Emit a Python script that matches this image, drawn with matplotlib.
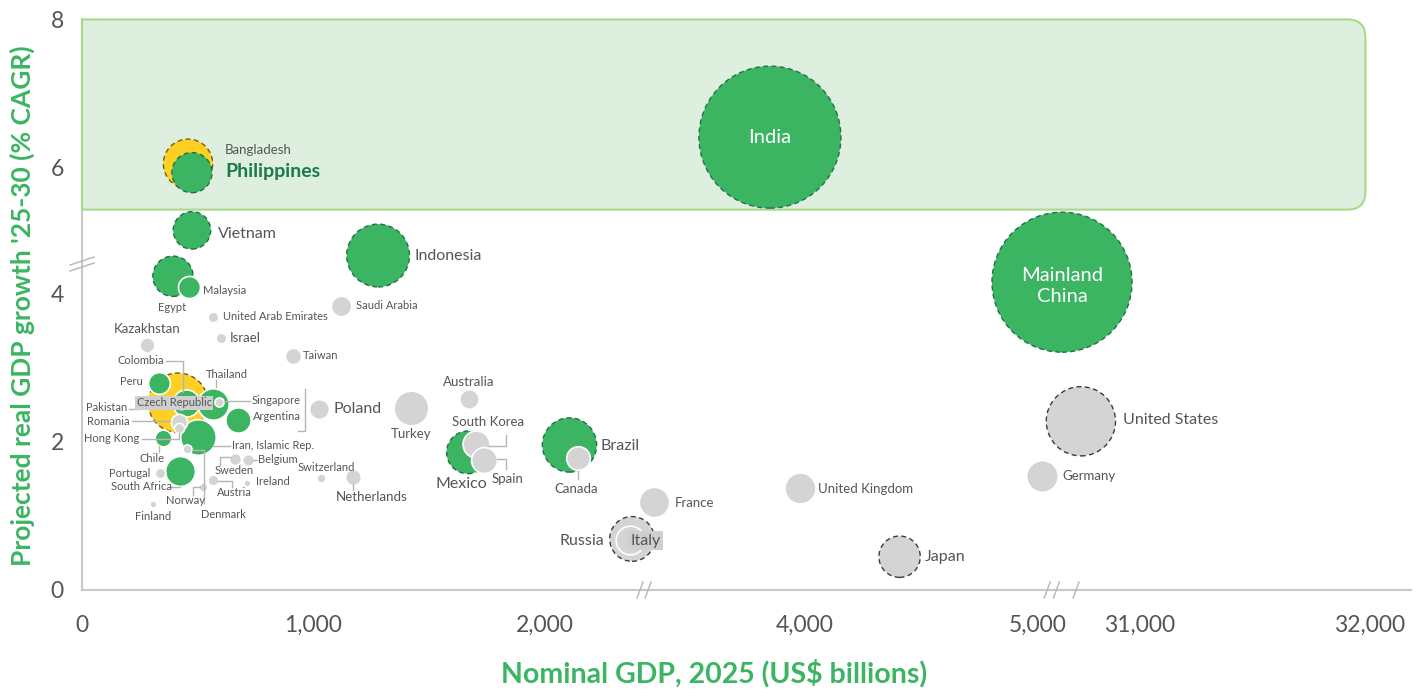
import numpy as np
import matplotlib
matplotlib.use('Agg')
from matplotlib import pyplot as plt
from matplotlib.path import Path
from matplotlib.patches import PathPatch
from matplotlib.lines import Line2D
from matplotlib.transforms import IdentityTransform

plt.rcParams['font.family'] = ['Lato', 'DejaVu Sans']

# ---- data ----
countries = ['India', 'Mainland China', 'United States', 'Indonesia', 'Pakistan', 'Brazil',
             'Bangladesh', 'Russia', 'Mexico', 'Japan', 'Egypt', 'Philippines', 'Vietnam',
             'Iran, Islamic Rep.', 'Turkey', 'Germany', 'Thailand', 'United Kingdom', 'France',
             'South Africa', 'Italy', 'Colombia', 'South Korea', 'Spain', 'Argentina', 'Canada',
             'Poland', 'Malaysia', 'Peru', 'Saudi Arabia', 'Australia', 'Taiwan', 'Kazakhstan',
             'Chile', 'Romania', 'Netherlands', 'Belgium', 'Sweden', 'Czech Republic', 'Portugal',
             'Israel', 'United Arab Emirates', 'Austria', 'Switzerland', 'Hong Kong', 'Singapore',
             'Denmark', 'Norway', 'Finland', 'Ireland']
gdp = [3850, 19400, 30743, 1279, 415, 2108,
       458, 2384, 1667, 4406, 393, 475, 475,
       501, 1421, 5017, 566, 3979, 3354,
       423, 2376, 449, 1702, 1737, 674, 2147,
       1024, 462, 333, 1119, 1672, 911, 281,
       350, 419, 1171, 717, 661, 428, 337,
       600, 566, 566, 1032, 419, 592,
       454, 523, 307, 713]
growth = [6.41, 4.16, 2.28, 4.81, 2.53, 1.96,
          6.05, 0.69, 1.86, 0.45, 4.24, 5.93, 5.15,
          2.07, 2.46, 1.54, 2.51, 1.38, 1.19,
          1.61, 0.68, 2.53, 1.97, 1.76, 2.30, 1.78,
          2.45, 4.09, 2.80, 3.84, 2.58, 3.16, 3.31,
          2.05, 2.27, 1.53, 1.76, 1.77, 2.53, 1.58,
          3.41, 3.69, 1.49, 1.51, 2.19, 2.54,
          1.91, 1.39, 1.16, 1.45]
population = [1450, 1410, 345, 284, 255, 212,
              175, 144, 131, 123, 117, 116, 101,
              91, 87, 72, 71, 69, 66,
              64, 59, 53, 52, 48, 46, 40,
              28, 35, 34, 30, 27, 19, 16,
              20, 19, 18, 10, 10.6, 10.9, 8,
              8, 8, 8.5, 6, 7.5, 6,
              6, 5.6, 3.5, 3.5]
group = ['g', 'g', 'n', 'g', 'y', 'g',
         'y', 'n', 'g', 'n', 'g', 'g', 'g',
         'g', 'n', 'n', 'g', 'n', 'n',
         'g', 'n', 'g', 'n', 'n', 'g', 'n',
         'n', 'g', 'g', 'n', 'n', 'n', 'n',
         'g', 'n', 'n', 'n', 'n', 'n', 'n',
         'n', 'n', 'n', 'n', 'n', 'n',
         'n', 'n', 'n', 'n']
highlighted = ['India', 'Mainland China', 'United States', 'Indonesia', 'Pakistan', 'Brazil',
               'Bangladesh', 'Russia', 'Mexico', 'Japan', 'Egypt', 'Philippines', 'Vietnam']

x_ticks = [0, 1000, 2000, 4000, 5000, 31000, 32000]
x_ticklabels = ['0', '1,000', '2,000', '4,000', '5,000', '31,000', '32,000']
y_ticks = [0, 2, 4, 6, 8]
band = (5.43, 8)  # high-growth band

# ---- styles ----
GREEN = '#3bb562'
face = {'g': GREEN, 'n': '#d4d4d4', 'y': '#fdd023'}
dash_edge = {'g': '#22704a', 'n': '#3a3a3a', 'y': '#6f5a1e'}
TXT = '#555555'
LEAD = '#b5b5b5'
fs = {'xs': 8, 's': 9.5, 'm': 11.5}

# label layout: dx, dy (pixels, down positive), ha, size, leader polyline (pixels from bubble)
labels = {
    'India': (0, 0, 'center', 'in', None),
    'Mainland China': (0, 4, 'center', 'in', None),
    'United States': (42, -1, 'left', 'm', None),
    'Indonesia': (36, 0, 'left', 'm', None),
    'Pakistan': (-51, 5, 'right', 'xs', [(-49, 6), (-38, 6)]),
    'Brazil': (31, 1, 'left', 'm', None),
    'Bangladesh': (37, -14, 'left', 's', None),
    'Russia': (-28, 2, 'right', 'm', None),
    'Mexico': (-7, 32, 'center', 'm', None),
    'Japan': (25, 0, 'left', 'm', None),
    'Egypt': (-1, 31, 'center', 'xs', None),
    'Philippines': (33, -1, 'left', 'ph', None),
    'Vietnam': (26, 4, 'left', 'm', None),
    'Iran, Islamic Rep.': (34, 9, 'left', 'xs', [(15, 9), (32, 9)]),
    'Turkey': (0, 26, 'center', 's', None),
    'Germany': (20, 0, 'left', 's', None),
    'Thailand': (14, -30, 'center', 'xs', [(3, -24), (3, -17)]),
    'United Kingdom': (18, 1, 'left', 's', None),
    'France': (21, 1, 'left', 's', None),
    'South Africa': (-38, 16, 'center', 'xs', [(-9, 16), (0, 16)]),
    'Italy': (15, 1, 'center', 'm', None),
    'Colombia': (-22, -42, 'right', 'xs', [(-20, -42), (-3, -42), (-3, -11)]),
    'South Korea': (12, -22, 'center', 's', [(13, 2), (30, 2), (30, -9)]),
    'Spain': (23, 19, 'center', 's', [(13, -1), (22, -1), (22, 9)]),
    'Argentina': (15, -3, 'left', 'xs', None),
    'Canada': (-2, 31, 'center', 's', [(0, 13), (0, 21)]),
    'Poland': (14, 0, 'left', 'm', [(-14, -20), (-14, 22), (-21, 22)]),
    'Malaysia': (14, 3, 'left', 'xs', None),
    'Peru': (-16, -1, 'right', 'xs', None),
    'Saudi Arabia': (15, 0, 'left', 'xs', None),
    'Australia': (0, -17, 'center', 's', None),
    'Taiwan': (10, -1, 'left', 'xs', None),
    'Kazakhstan': (0, -16, 'center', 's', None),
    'Chile': (-11, 20, 'center', 'xs', [(-4, 8), (-4, 14)]),
    'Romania': (-49, -1, 'right', 'xs', [(-47, -1), (-9, -1)]),
    'Netherlands': (19, 20, 'center', 's', [(0, 7), (0, 13)]),
    'Belgium': (10, 0, 'left', 'xs', [(5, 0), (9, 0)]),
    'Sweden': (-1, 11, 'center', 'xs', [(-15, 6), (-15, -2), (-5, -2)]),
    'Czech Republic': (-7, 0, 'center', 'xs', None),
    'Portugal': (-10, 0, 'right', 'xs', None),
    'Israel': (9, 0, 'left', 's', None),
    'United Arab Emirates': (10, 0, 'left', 'xs', None),
    'Austria': (21, 13, 'center', 'xs', [(5, 1), (19, 1), (19, 7)]),
    'Switzerland': (5, -11, 'center', 'xs', None),
    'Hong Kong': (-40, 11, 'right', 'xs', [(-37, 11), (0, 11), (0, 5)]),
    'Singapore': (33, -2, 'left', 'xs', [(5, -1), (31, -1)]),
    'Denmark': (36, 66, 'center', 'xs', [(5, 1), (17, 1), (17, 54)]),
    'Norway': (-18, 13, 'center', 'xs', [(-10, 8), (-10, 0), (-3, 0)]),
    'Finland': (0, 12, 'center', 'xs', None),
    'Ireland': (9, -1, 'left', 'xs', None),
}
boxed = ['Czech Republic', 'Italy']

# ---- broken axes as piecewise-linear scales ----
W, H = 1425, 690
XK_VAL = np.array([-10000, 0, 2000, 2430, 3320, 4000, 5000, 5100, 19400, 30700, 32000, 100000.])
XK_PIX = np.array([82 - 2315, 82, 545, 642.5, 646, 805, 1038, 1061, 1062, 1071, 1370, 1370 + 68000 * 0.23])
YK_VAL = np.array([-10, 0, 4.4, 4.7, 8, 20.])
YK_POS = np.array([-10, 0, 4.4, 4.41, 7.71, 19.71])
PX_PER_Y = 74.0

def xf(v):
    return np.interp(v, XK_VAL, XK_PIX)

def xi(p):
    return np.interp(p, XK_PIX, XK_VAL)

def yf(v):
    return np.interp(v, YK_VAL, YK_POS)

def yi(p):
    return np.interp(p, YK_POS, YK_VAL)

XMAX = 32180
fig = plt.figure(figsize=(W / 100, H / 100), dpi=100)
ax_h = (yf(8) - yf(0)) * PX_PER_Y
ax = fig.add_axes([xf(0) / W, 100 / H, (xf(XMAX) - xf(0)) / W, ax_h / H])
ax.set_xscale('function', functions=(xf, xi))
ax.set_yscale('function', functions=(yf, yi))
ax.set_xlim(0, XMAX)
ax.set_ylim(0, 8)

for s in ['top', 'right']:
    ax.spines[s].set_visible(False)
for s in ['left', 'bottom']:
    ax.spines[s].set_color('#c8c8c8')
    ax.spines[s].set_linewidth(1.5)
ax.set_xticks(x_ticks)
ax.set_xticklabels(x_ticklabels)
ax.set_yticks(y_ticks)
ax.minorticks_off()
ax.tick_params(length=0, labelsize=16.5, labelcolor=TXT)
ax.tick_params(axis='x', pad=18)
ax.tick_params(axis='y', pad=13)

fig.canvas.draw()
to_disp = ax.transData.transform

# high-growth band, rounded on the right
x0, y1 = to_disp((0, band[1]))
x1, y0 = to_disp((31980, band[0]))
r = 18
verts = [(x0, y0), (x1 - r, y0), (x1, y0), (x1, y0 + r), (x1, y1 - r), (x1, y1), (x1 - r, y1),
         (x0, y1), (x0, y0)]
codes = [Path.MOVETO, Path.LINETO, Path.CURVE3, Path.CURVE3, Path.LINETO, Path.CURVE3, Path.CURVE3,
         Path.LINETO, Path.CLOSEPOLY]
ax.add_patch(PathPatch(Path(verts, codes), transform=IdentityTransform(), facecolor='#deefe0',
                       edgecolor='#a9d88c', lw=1.5, zorder=3, clip_on=False))

# axis break marks
def slash(px, py, dx, dy):
    ax.add_line(Line2D([px - dx, px + dx], [py - dy, py + dy], color='#b5b5b5', lw=1,
                       transform=IdentityTransform(), clip_on=False, zorder=4))

for bx in [5040, 5080, 30722, 2419, 3329]:
    px, py = to_disp((bx, 0))
    slash(px, py, 3, 8)
px, py = to_disp((0, 4.55))
slash(px, py + 3, 12, 4)
slash(px, py - 3, 12, 4)

# bubbles, biggest first
R_MAX = 71 * 0.72  # points
P_MAX = max(population)
order = np.argsort(population)[::-1]
for k, i in enumerate(order):
    name = countries[i]
    s = (2 * R_MAX) ** 2 * population[i] / P_MAX
    if name in highlighted:
        ax.scatter(gdp[i], growth[i], s=s, color=face[group[i]], edgecolors=dash_edge[group[i]],
                   linewidths=1.0, linestyles=(0, (3.5, 2.5)), zorder=10 + k, clip_on=False)
    else:
        ax.scatter(gdp[i], growth[i], s=s, color=face[group[i]], edgecolors='white',
                   linewidths=1.2, zorder=10 + k, clip_on=False)

# labels and leader lines
for i, name in enumerate(countries):
    dx, dy, ha, size, lead = labels[name]
    kw = dict(color=TXT, fontsize=fs.get(size, 10))
    text = name
    if size == 'in':
        kw = dict(color='white', fontsize=14.5, linespacing=1.3)
        if name == 'Mainland China':
            text = 'Mainland\nChina'
    elif size == 'ph':
        kw = dict(color='#1d7a48', fontsize=14, fontweight='bold')
    if name in boxed:
        kw['bbox'] = dict(boxstyle='square,pad=0.15', fc='#cfcfcf', ec='none')
    ax.annotate(text, (gdp[i], growth[i]), xytext=(dx * 0.72, -dy * 0.72),
                textcoords='offset points', ha=ha, va='center', zorder=200,
                annotation_clip=False, **kw)
    if lead:
        cx, cy = to_disp((gdp[i], growth[i]))
        ax.add_line(Line2D([cx + p[0] for p in lead], [cy - p[1] for p in lead], color=LEAD,
                           lw=1, transform=IdentityTransform(), clip_on=False, zorder=150))

fig.text(714 / W, 1 - 673 / H, 'Nominal GDP, 2025 (US\\$ billions)', ha='center', va='center',
         fontsize=20.5, fontweight='bold', color=GREEN)
fig.text(22 / W, 1 - 306 / H, "Projected real GDP growth '25-30 (% CAGR)", ha='center',
         va='center', rotation=90, fontsize=19, fontweight='bold', color=GREEN)

fig.savefig('out.png', dpi=100)
